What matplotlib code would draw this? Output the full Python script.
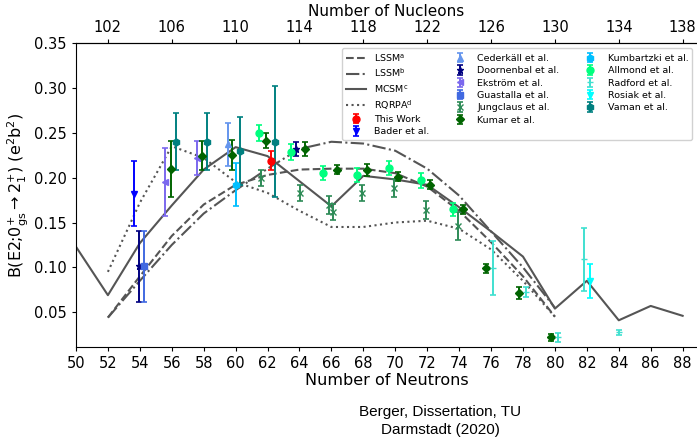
import matplotlib
matplotlib.use("Agg")
import matplotlib.pyplot as plt
from matplotlib.ticker import FormatStrFormatter

# theory curves, B(E2) in e^2b^2 vs neutron number
mcsm_n = [50, 52, 54, 56, 58, 60, 62, 64, 66, 68, 70, 72, 74, 76, 78, 80, 82, 84, 86, 88]
mcsm_b = [0.123, 0.069, 0.127, 0.169, 0.209, 0.234, 0.224, 0.196, 0.168, 0.202,
          0.198, 0.192, 0.167, 0.140, 0.112, 0.054, 0.085, 0.041, 0.057, 0.046]
lssm_n = [52, 54, 56, 58, 60, 62, 64, 66, 68, 70, 72, 74, 76, 78, 80]
lssm_a_b = [0.044, 0.090, 0.135, 0.170, 0.192, 0.203, 0.209, 0.210, 0.210, 0.205,
            0.190, 0.163, 0.128, 0.090, 0.045]
lssm_b_b = [0.044, 0.085, 0.125, 0.160, 0.186, 0.210, 0.232, 0.240, 0.238, 0.230,
            0.210, 0.180, 0.140, 0.100, 0.055]
rqrpa_n = [52, 54, 56, 58, 60, 62, 64, 66, 68, 70, 72, 74, 76, 78, 80]
rqrpa_b = [0.095, 0.172, 0.235, 0.222, 0.195, 0.183, 0.163, 0.145, 0.145, 0.150,
           0.152, 0.143, 0.120, 0.085, 0.045]

# experimental points: x position as plotted, value, error
this_x, this_b, this_e = [62.2], [0.219], [0.011]
bader_x, bader_b, bader_e = [53.65], [0.182], [0.036]
ceder_x, ceder_b, ceder_e = [59.5], [0.237], [0.024]
doorn_x, doorn_b, doorn_e = [53.95, 63.8], [0.101, 0.232], [0.040, 0.0075]
ekstr_x, ekstr_b, ekstr_e = [55.6, 57.55], [0.195, 0.222], [0.038, 0.019]
guast_x, guast_b, guast_e = [54.25], [0.101], [0.040]
jung_x = [61.6, 64.05, 65.85, 66.1, 67.9, 69.95, 71.9, 73.9]
jung_b = [0.200, 0.183, 0.169, 0.162, 0.183, 0.188, 0.164, 0.146]
jung_e = [0.009, 0.009, 0.010, 0.009, 0.009, 0.010, 0.010, 0.016]
kumar_x = [55.95, 57.9, 59.8, 61.9, 64.35, 66.35, 68.25, 70.2, 72.2, 74.25, 75.7, 77.75, 79.75]
kumar_b = [0.2095, 0.2243, 0.2255, 0.2414, 0.2318, 0.2087, 0.2087, 0.2012, 0.192,
           0.165, 0.099, 0.0713, 0.022]
kumar_e = [0.031, 0.016, 0.017, 0.008, 0.008, 0.005, 0.007, 0.005, 0.005,
           0.005, 0.005, 0.007, 0.004]
kumb_x, kumb_b, kumb_e = [60.05], [0.192], [0.024]
allm_x = [61.45, 63.5, 65.5, 67.6, 69.6, 71.6, 73.6]
allm_b = [0.250, 0.229, 0.205, 0.203, 0.2106, 0.197, 0.1645]
allm_e = [0.009, 0.009, 0.008, 0.008, 0.008, 0.008, 0.007]
radf_x = [76.1, 78.2, 80.2, 81.8, 84.0]
radf_b = [0.0995, 0.0725, 0.022, 0.109, 0.0274]
radf_e = [0.030, 0.006, 0.005, 0.035, 0.003]
rosi_x, rosi_b, rosi_e = [82.2], [0.0853], [0.019]
vaman_x = [56.25, 58.2, 60.3, 62.45]
vaman_b = [0.240, 0.240, 0.230, 0.240]
vaman_e = [0.0315, 0.0315, 0.038, 0.062]

fig = plt.figure(figsize=(6.97, 4.44), dpi=100)
ax = fig.add_axes([0.109, 0.218, 0.891, 0.685])

gray = "#555555"
ax.plot(lssm_n, lssm_a_b, ls="--", color=gray, lw=1.5, label="LSSM$^{\\rm a}$")
ax.plot(lssm_n, lssm_b_b, ls="-.", color=gray, lw=1.5, label="LSSM$^{\\rm b}$")
ax.plot(mcsm_n, mcsm_b, ls="-", color=gray, lw=1.5, label="MCSM$^{\\rm c}$")
ax.plot(rqrpa_n, rqrpa_b, ls=":", color=gray, lw=1.5, label="RQRPA$^{\\rm d}$")

sets = [
    (this_x, this_b, this_e, "red", "o", "This Work"),
    (bader_x, bader_b, bader_e, "blue", "v", "Bader et al."),
    (ceder_x, ceder_b, ceder_e, "cornflowerblue", "^", "Cederkäll et al."),
    (doorn_x, doorn_b, doorn_e, "navy", "*", "Doornenbal et al."),
    (ekstr_x, ekstr_b, ekstr_e, "mediumslateblue", "<", "Ekström et al."),
    (guast_x, guast_b, guast_e, "royalblue", "s", "Guastalla et al."),
    (jung_x, jung_b, jung_e, "seagreen", "x", "Jungclaus et al."),
    (kumar_x, kumar_b, kumar_e, "darkgreen", "D", "Kumar et al."),
    (kumb_x, kumb_b, kumb_e, "deepskyblue", "h", "Kumbartzki et al."),
    (allm_x, allm_b, allm_e, "springgreen", "o", "Allmond et al."),
    (radf_x, radf_b, radf_e, "turquoise", "_", "Radford et al."),
    (rosi_x, rosi_b, rosi_e, "cyan", "v", "Rosiak et al."),
    (vaman_x, vaman_b, vaman_e, "teal", "h", "Vaman et al."),
]
for x, b, e, c, m, lab in sets:
    ms = 4 if m in ("D", "x", "_") else 5
    ax.errorbar(x, b, yerr=e, fmt=m, color=c, ms=ms, capsize=2.5,
                elinewidth=1.4, capthick=1.2, label=lab)

ax.set_xlim(50, 88.9)
ax.set_ylim(0.011, 0.35)
ax.set_xticks(range(50, 89, 2))
ax.set_yticks([0.05, 0.10, 0.15, 0.20, 0.25, 0.30, 0.35])
ax.yaxis.set_major_formatter(FormatStrFormatter("%.2f"))
ax.tick_params(labelsize=10.5, length=3)
ax.spines["right"].set_visible(False)
ax.set_xlabel("Number of Neutrons", fontsize=11.5, labelpad=1)
ax.set_ylabel("B(E2;0$^{+}_{\\rm gs}$$\\rightarrow$2$^{+}_{1}$) (e$^{2}$b$^{2}$)",
              fontsize=11.5, labelpad=2)

top = ax.secondary_xaxis("top", functions=(lambda n: n + 50, lambda a: a - 50))
top.set_xticks(range(102, 139, 4))
top.tick_params(labelsize=10.5, length=3, pad=2.5)
top.set_xlabel("Number of Nucleons", fontsize=11, labelpad=3)

ax.legend(ncol=3, loc="upper right", fontsize=6.8, labelspacing=0.35,
          handlelength=2.2, columnspacing=2.1, framealpha=0.9)

fig.text(0.632, 0.052, "Berger, Dissertation, TU\nDarmstadt (2020)", ha="center",
         va="center", fontsize=11, family="Liberation Sans", linespacing=1.4)

fig.savefig("out.png", dpi=100)
